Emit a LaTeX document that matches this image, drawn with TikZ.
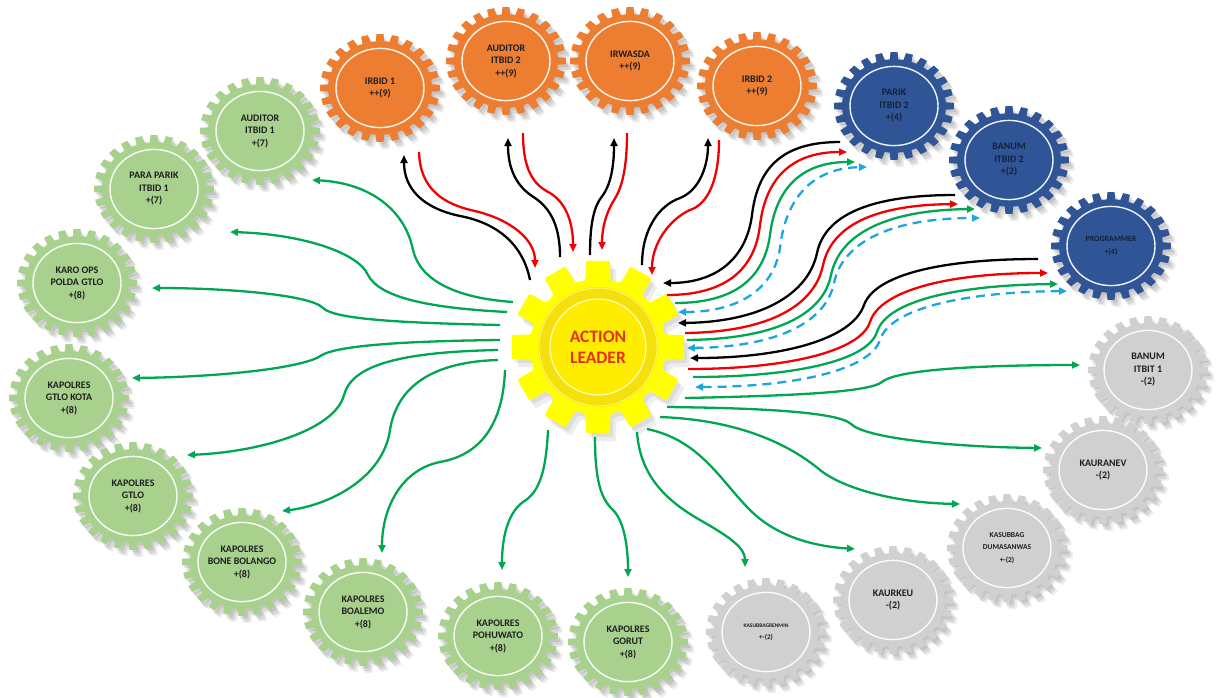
\documentclass[tikz,border=0pt]{standalone}
\usepackage{fontspec}
\setmainfont{Carlito}
\usetikzlibrary{arrows.meta}
\definecolor{gorange}{HTML}{ED7D31}
\definecolor{gblue}{HTML}{2F5597}
\definecolor{ggreen}{HTML}{A9D18E}
\definecolor{ggray}{HTML}{D0D0D0}
\definecolor{tblue}{HTML}{14213D}
\definecolor{tdark}{HTML}{1E1E1E}
\definecolor{lgreen}{HTML}{00A651}
\definecolor{lred}{HTML}{F00000}
\definecolor{lcyan}{HTML}{1CA6E0}
\definecolor{lyel}{HTML}{FFFF00}
\definecolor{alred}{HTML}{E4301C}

\newcommand\cogfill[1]{\fill[#1] ({-4.6}:52) \foreach \i in {0,...,23}{ -- ({\i*15-3.4}:60) -- ({\i*15+3.4}:60) -- ({\i*15+4.6}:52) -- ({\i*15+10.4}:52)} -- cycle;}
\newcommand\bigcogfill[1]{\fill[#1] ({-10.5}:68) \foreach \i in {0,...,11}{ -- ({\i*30-8}:87) -- ({\i*30+8}:87) -- ({\i*30+10.5}:68) -- ({\i*30+19.5}:68)} -- cycle;}
% #1 name, #2 x, #3 y, #4 fill colour, #5 text colour, #6 text
\newcommand\cog[6]{%
  \begin{scope}[shift={(#2,#3)}, yscale=0.9]
    \cogfill{black,opacity=0.09,shift={(2,3)}}
    \cogfill{black,opacity=0.09,shift={(4,6)}}
    \cogfill{black,opacity=0.07,shift={(6,8)}}
    \cogfill{#4}
    \draw[white!92!#4, line width=1.4pt] (0,0) circle [radius=44];
  \end{scope}
  \node[gearlabel, text=#5] (#1) at (#2,#3) {#6};
}

\tikzset{
  gearlabel/.style={align=center, font=\bfseries\fontsize{10}{12.5}\selectfont},
  con/.style={line width=2.3pt},
  tip/.style={-{Triangle[length=8pt,width=7pt]}},
  blk/.style={con, black, tip},
  rd/.style={con, lred, tip},
  grn/.style={con, lgreen, tip},
  cyn/.style={con, lcyan, dash pattern=on 9pt off 6pt, {Triangle[length=8pt,width=7pt]}-{Triangle[length=8pt,width=7pt]}}
}

\begin{document}
\begin{tikzpicture}[x=1pt,y=-1pt]
\useasboundingbox (0,0) rectangle (1220,697);
\fill[white] (0,0) rectangle (1220,697);

% ---------- gears ----------
\cog{o1}{380}{88}{gorange}{tdark}{IRBID 1\\++(9)}
\cog{o2}{506}{61}{gorange}{tdark}{AUDITOR\\ITBID 2\\++(9)}
\cog{o3}{630}{61}{gorange}{tdark}{IRWASDA\\++(9)}
\cog{o4}{757}{86}{gorange}{tdark}{IRBID 2\\++(9)}

\cog{b1}{894}{106}{gblue}{tblue}{PARIK\\ITBID 2\\+(4)}
\cog{b2}{1009}{160}{gblue}{tblue}{BANUM\\ITBID 2\\+(2)}
\cog{b3}{1111}{246}{gblue}{tblue}{\fontsize{8}{10.5}\selectfont PROGRAMMER\\\fontsize{8}{10.5}\selectfont +(4)}

\cog{g1}{1148}{370}{ggray}{tdark}{BANUM\\ITBIT 1\\-(2)}
\cog{g2}{1103}{470}{ggray}{tdark}{KAURANEV\\-(2)}
\cog{g3}{1007}{548}{ggray}{tdark}{\fontsize{7.5}{11}\selectfont KASUBBAG\\\fontsize{7.5}{11}\selectfont DUMASANWAS\\\fontsize{7.5}{11}\selectfont +-(2)}
\cog{g4}{893}{600}{ggray}{tdark}{KAURKEU\\-(2)}
\cog{g5}{766}{632}{ggray}{tdark}{\fontsize{5.5}{9}\selectfont KASUBBAGRENMIN\\\fontsize{7}{9}\selectfont +-(2)}

\cog{e1}{260}{131}{ggreen}{tdark}{AUDITOR\\ITBID 1\\+(7)}
\cog{e2}{154}{189}{ggreen}{tdark}{PARA PARIK\\ITBID 1\\+(7)}
\cog{e3}{77}{283}{ggreen}{tdark}{KARO OPS\\POLDA GTLO\\+(8)}
\cog{e4}{69}{398}{ggreen}{tdark}{KAPOLRES\\GTLO KOTA\\+(8)}
\cog{e5}{133}{496}{ggreen}{tdark}{KAPOLRES\\GTLO\\+(8)}
\cog{e6}{242}{562}{ggreen}{tdark}{KAPOLRES\\BONE BOLANGO\\+(8)}
\cog{e7}{363}{612}{ggreen}{tdark}{KAPOLRES\\BOALEMO\\+(8)}
\cog{e8}{498}{636}{ggreen}{tdark}{KAPOLRES\\POHUWATO\\+(8)}
\cog{e9}{628}{642}{ggreen}{tdark}{KAPOLRES\\GORUT\\+(8)}

% ---------- action leader ----------
\begin{scope}[shift={(598,347)}]
  \bigcogfill{black,opacity=0.07,shift={(3,4)},rounded corners=2pt}
  \bigcogfill{black,opacity=0.07,shift={(6,8)},rounded corners=2pt}
  \bigcogfill{lyel,rounded corners=2pt}
  \fill[yellow!92!orange!95!black] (0,0) circle [radius=60];
  \draw[yellow!60!white, line width=1pt] (0,0) circle [radius=59];
  \fill[yellow!95!orange] (0,0) circle [radius=48];
  \draw[white!70!yellow, line width=1.2pt] (0,0) circle [radius=48];
\end{scope}
\node[align=center, font=\bfseries\fontsize{17.5}{21}\selectfont, text=alred] (AL) at (598,347) {ACTION\\LEADER};

% ---------- named end points ----------
% orange
\coordinate (o1b) at (404,155); \coordinate (o1r) at (419,152);
\coordinate (o2b) at (508,138); \coordinate (o2r) at (523,133);
\coordinate (o3b) at (614,138); \coordinate (o3r) at (627,133);
\coordinate (o4b) at (708,138); \coordinate (o4r) at (719,140);
\coordinate (al-o1b) at (530,280); \coordinate (al-o1r) at (535,268);
\coordinate (al-o2b) at (560,257); \coordinate (al-o2r) at (573,252);
\coordinate (al-o3b) at (590,255); \coordinate (al-o3r) at (602,250);
\coordinate (al-o4b) at (642,265); \coordinate (al-o4r) at (652,275);
% blue
\coordinate (b1b) at (840,142); \coordinate (b1r) at (847,152); \coordinate (b1g) at (855,162); \coordinate (b1c) at (867,167);
\coordinate (al-b1b) at (663,283); \coordinate (al-b1r) at (667,295); \coordinate (al-b1g) at (675,303); \coordinate (al-b1c) at (678,312);
\coordinate (b2b) at (955,195); \coordinate (b2r) at (958,204); \coordinate (b2g) at (975,209); \coordinate (b2c) at (980,218);
\coordinate (al-b2b) at (678,323); \coordinate (al-b2r) at (685,333); \coordinate (al-b2g) at (687,340); \coordinate (al-b2c) at (687,348);
\coordinate (b3b) at (1038,259); \coordinate (b3r) at (1048,273); \coordinate (b3g) at (1058,284); \coordinate (b3c) at (1067,291);
\coordinate (al-b3b) at (690,358); \coordinate (al-b3r) at (688,369); \coordinate (al-b3g) at (693,377); \coordinate (al-b3c) at (695,387);
% green / grey
\coordinate (al-e1) at (513,302); \coordinate (e1t) at (312,180);
\coordinate (al-e2) at (507,312); \coordinate (e2t) at (230,232);
\coordinate (al-e3) at (500,325); \coordinate (e3t) at (152,288);
\coordinate (al-e4) at (500,340); \coordinate (e4t) at (132,378);
\coordinate (al-e5) at (498,350); \coordinate (e5t) at (187,455);
\coordinate (al-e6) at (498,360); \coordinate (e6t) at (282,511);
\coordinate (al-e7) at (505,370); \coordinate (e7t) at (382,553);
\coordinate (al-e8) at (548,430); \coordinate (e8t) at (502,570);
\coordinate (al-e9) at (595,437); \coordinate (e9t) at (628,577);
\coordinate (al-g5) at (637,432); \coordinate (g5t) at (745,567);
\coordinate (al-g4) at (647,429); \coordinate (g4t) at (855,549);
\coordinate (al-g3) at (660,417); \coordinate (g3t) at (960,504);
\coordinate (al-g2) at (667,407); \coordinate (g2t) at (1042,448);
\coordinate (al-g1) at (685,398); \coordinate (g1t) at (1080,365);

% ---------- orange connectors ----------
\draw[blk] (al-o1b) .. controls (522,240) and (492,222) .. (460,216) .. controls (422,208) and (404,188) .. (o1b);
\draw[rd] (o1r) .. controls (420,188) and (442,204) .. (475,211) .. controls (512,220) and (535,240) .. (al-o1r);
\draw[blk] (al-o2b) .. controls (560,222) and (548,206) .. (532,196) .. controls (514,184) and (508,165) .. (o2b);
\draw[rd] (o2r) .. controls (523,168) and (532,184) .. (550,193) .. controls (568,204) and (573,226) .. (al-o2r);
\draw[blk] (al-o3b) .. controls (590,222) and (594,206) .. (603,195) .. controls (612,182) and (614,162) .. (o3b);
\draw[rd] (o3r) .. controls (627,168) and (622,188) .. (614,200) .. controls (606,213) and (602,228) .. (al-o3r);
\draw[blk] (al-o4b) .. controls (642,228) and (660,205) .. (680,198) .. controls (700,190) and (708,165) .. (o4b);
\draw[rd] (o4r) .. controls (719,180) and (708,204) .. (690,210) .. controls (668,220) and (652,245) .. (al-o4r);

% ---------- blue connectors ----------
\draw[blk] (b1b) .. controls (785,142) and (758,165) .. (752,215) .. controls (746,260) and (715,283) .. (al-b1b);
\draw[rd] (al-b1r) .. controls (725,295) and (755,270) .. (760,225) .. controls (766,175) and (795,152) .. (b1r);
\draw[grn] (al-b1g) .. controls (735,303) and (764,278) .. (770,235) .. controls (776,185) and (805,162) .. (b1g);
\draw[cyn] (al-b1c) .. controls (740,312) and (774,288) .. (780,248) .. controls (786,195) and (815,168) .. (b1c);

\draw[blk] (b2b) .. controls (870,195) and (825,215) .. (817,253) .. controls (808,295) and (760,322) .. (al-b2b);
\draw[rd] (al-b2r) .. controls (770,332) and (815,305) .. (823,265) .. controls (832,225) and (875,205) .. (b2r);
\draw[grn] (al-b2g) .. controls (775,339) and (823,315) .. (831,275) .. controls (840,232) and (890,210) .. (b2g);
\draw[cyn] (al-b2c) .. controls (778,347) and (826,322) .. (834,283) .. controls (843,240) and (895,218) .. (b2c);

\draw[blk] (b3b) .. controls (940,259) and (875,275) .. (864,305) .. controls (852,340) and (780,358) .. (al-b3b);
\draw[rd] (al-b3r) .. controls (785,369) and (860,352) .. (870,322) .. controls (880,290) and (950,273) .. (b3r);
\draw[grn] (al-b3g) .. controls (790,377) and (867,362) .. (877,332) .. controls (887,300) and (960,285) .. (b3g);
\draw[cyn] (al-b3c) .. controls (795,387) and (870,370) .. (880,340) .. controls (890,308) and (965,292) .. (b3c);

% ---------- green connectors ----------
\draw[grn] (al-e1) .. controls (455,298) and (420,280) .. (413,250) .. controls (405,210) and (370,183) .. (e1t);
\draw[grn] (al-e2) .. controls (430,308) and (380,298) .. (368,275) .. controls (358,252) and (300,234) .. (e2t);
\draw[grn] (al-e3) .. controls (410,323) and (335,320) .. (323,308) .. controls (310,294) and (220,288) .. (e3t);
\draw[grn] (al-e4) .. controls (410,341) and (340,345) .. (322,355) .. controls (305,368) and (220,377) .. (e4t);
\draw[grn] (al-e5) .. controls (400,352) and (352,365) .. (344,395) .. controls (335,430) and (260,452) .. (e5t);
\draw[grn] (al-e6) .. controls (425,362) and (396,392) .. (390,430) .. controls (383,478) and (330,505) .. (e6t);
\draw[grn] (al-e7) .. controls (503,425) and (480,455) .. (440,462) .. controls (400,470) and (382,510) .. (e7t);
\draw[grn] (al-e8) .. controls (546,470) and (540,492) .. (523,502) .. controls (505,515) and (502,545) .. (e8t);
\draw[grn] (al-e9) .. controls (595,478) and (600,498) .. (613,510) .. controls (625,522) and (628,550) .. (e9t);
\draw[grn] (al-g5) .. controls (640,475) and (665,500) .. (700,520) .. controls (730,537) and (745,548) .. (g5t);
\draw[grn] (al-g4) .. controls (700,440) and (720,480) .. (750,510) .. controls (775,535) and (810,546) .. (g4t);
\draw[grn] (al-g3) .. controls (740,420) and (790,445) .. (820,470) .. controls (845,490) and (900,503) .. (g3t);
\draw[grn] (al-g2) .. controls (760,408) and (838,412) .. (851,424) .. controls (865,438) and (950,447) .. (g2t);
\draw[grn] (al-g1) .. controls (780,396) and (868,393) .. (882,382) .. controls (898,368) and (1000,365) .. (g1t);
\end{tikzpicture}
\end{document}
